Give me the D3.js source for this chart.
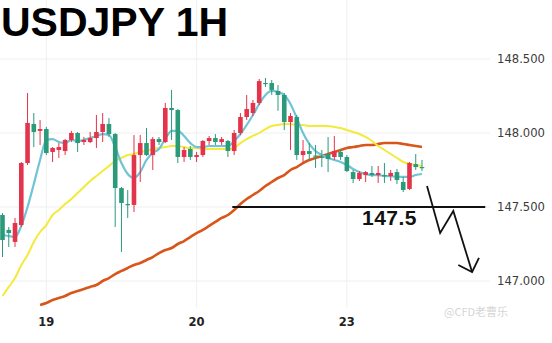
<!DOCTYPE html>
<html><head><meta charset="utf-8">
<script src="https://cdn.jsdelivr.net/npm/d3@7"></script>
<style>body{margin:0;background:#fff}svg{display:block}</style></head>
<body>
<script>
const title = "USDJPY 1H";
const open  = [147.446,147.345,147.264,147.378,147.797,148.061,148.014,148.027,147.872,147.885,147.878,147.953,148.000,147.939,147.939,147.966,148.007,148.061,147.993,147.628,147.520,147.514,147.851,147.932,147.851,147.959,147.939,148.169,148.155,147.838,147.892,147.838,147.851,147.946,147.966,147.939,147.946,147.878,148.000,148.108,148.135,148.203,148.338,148.338,148.284,148.257,148.074,148.108,147.851,147.878,147.848,147.840,147.858,147.838,147.872,147.838,147.736,147.689,147.716,147.730,147.716,147.716,147.709,147.736,147.669,147.622,147.790,147.770];
const high  = [147.459,147.365,147.426,147.804,148.270,148.135,148.088,148.041,147.905,147.932,147.959,148.014,148.007,147.973,148.007,148.122,148.135,148.101,148.000,147.635,147.615,147.986,147.986,148.034,147.973,147.973,148.203,148.291,148.162,147.905,147.912,147.872,147.953,147.980,147.993,147.973,147.953,148.020,148.135,148.257,148.223,148.365,148.372,148.358,148.324,148.270,148.135,148.122,147.953,147.932,147.919,147.885,147.973,147.980,147.892,147.851,147.750,147.743,147.743,147.777,147.777,147.797,147.750,147.757,147.703,147.804,147.858,147.818];
const low   = [147.162,147.230,147.230,147.365,147.784,147.905,147.919,147.851,147.804,147.831,147.851,147.939,147.872,147.919,147.932,147.899,147.939,147.973,147.365,147.196,147.426,147.466,147.669,147.845,147.750,147.919,147.932,147.953,147.797,147.804,147.818,147.804,147.838,147.919,147.919,147.919,147.838,147.851,147.986,148.088,148.115,148.189,148.311,148.257,148.150,148.020,147.885,147.818,147.797,147.818,147.764,147.770,147.736,147.818,147.818,147.736,147.662,147.676,147.669,147.703,147.662,147.662,147.676,147.655,147.601,147.615,147.750,147.743];
const close = [147.277,147.324,147.392,147.797,148.068,148.007,148.027,147.865,147.899,147.905,147.953,148.000,147.932,147.953,147.966,148.007,148.061,147.993,147.628,147.527,147.514,147.851,147.932,147.851,147.959,147.939,148.169,148.155,147.838,147.885,147.838,147.851,147.946,147.966,147.939,147.959,147.878,148.000,148.108,148.162,148.203,148.351,148.331,148.291,148.257,148.074,148.115,147.851,147.878,147.858,147.843,147.836,147.824,147.878,147.838,147.743,147.689,147.730,147.736,147.716,147.730,147.709,147.730,147.682,147.615,147.797,147.770,147.764];
const maFast = [147.311,147.304,147.297,147.372,147.500,147.655,147.818,147.953,147.959,147.939,147.932,147.953,147.946,147.953,147.966,147.980,147.993,147.986,147.905,147.797,147.723,147.696,147.736,147.818,147.865,147.892,147.959,148.014,148.014,147.980,147.932,147.905,147.905,147.912,147.912,147.912,147.912,147.946,147.993,148.054,148.122,148.196,148.257,148.284,148.277,148.257,148.196,148.101,148.000,147.926,147.878,147.851,147.831,147.818,147.804,147.784,147.757,147.736,147.723,147.716,147.716,147.709,147.709,147.703,147.703,147.703,147.716,147.723];
const maMid = [146.899,146.960,147.020,147.108,147.176,147.264,147.331,147.378,147.446,147.480,147.520,147.554,147.595,147.635,147.676,147.709,147.743,147.777,147.811,147.831,147.851,147.858,147.872,147.878,147.892,147.899,147.905,147.912,147.912,147.905,147.899,147.899,147.892,147.892,147.892,147.892,147.892,147.899,147.932,147.959,147.980,148.000,148.027,148.047,148.054,148.061,148.061,148.054,148.054,148.047,148.047,148.047,148.047,148.041,148.034,148.020,148.007,147.993,147.973,147.946,147.912,147.885,147.858,147.831,147.804,147.791,147.784,147.777];
const maSlow = [null,null,null,null,null,null,146.838,146.851,146.872,146.885,146.899,146.919,146.932,146.946,146.960,146.973,147.000,147.020,147.047,147.068,147.088,147.108,147.122,147.142,147.162,147.189,147.209,147.223,147.250,147.270,147.297,147.324,147.345,147.372,147.399,147.426,147.446,147.480,147.520,147.554,147.581,147.608,147.642,147.669,147.696,147.716,147.750,147.770,147.797,147.818,147.831,147.845,147.858,147.872,147.885,147.899,147.905,147.912,147.919,147.919,147.926,147.932,147.932,147.932,147.926,147.919,147.912,147.905];
const yTicks = [147.0, 147.5, 148.0, 148.5];
const dayLabels = ["19", "20", "23"];
const dayIndex = [7, 31, 55];
const level = 147.5;
const levelText = "147.5";
const levelSpan = [36.7, 77.1];
const arrowIdx = [67.8, 69.9, 72.0, 75.0];
const arrowPx = [147.642, 147.325, 147.473, 147.061];
const headIdx = [72.8, 75.0, 76.1];
const headPx = [147.108, 147.061, 147.156];
const watermark = "@CFD老曹乐";

const W = 552, H = 343;
const svg = d3.select("body").append("svg").attr("width", W).attr("height", H);
const x = d3.scaleLinear().domain([0, 67]).range([2.5, 422]);
const y = d3.scaleLinear().domain([147, 148.5]).range([281, 59]);
const RED = "#e4344b", GREEN = "#2b9a7b";

// grid
svg.append("g").selectAll("line").data(yTicks).join("line")
  .attr("x1", 0).attr("x2", 490).attr("y1", d => y(d)).attr("y2", d => y(d))
  .attr("stroke", "#efefef").attr("stroke-width", 1);
svg.append("g").selectAll("line").data(dayIndex).join("line")
  .attr("x1", d => x(d)).attr("x2", d => x(d)).attr("y1", 0).attr("y2", 308)
  .attr("stroke", "#f0f0f0").attr("stroke-width", 1);

// y labels
svg.append("g").selectAll("text").data(yTicks).join("text")
  .attr("x", 497).attr("y", d => y(d)).attr("dy", "0.36em")
  .attr("font-family", "DejaVu Sans, sans-serif").attr("font-size", 11.6)
  .attr("fill", "#3a3a3a").text(d => d3.format(".3f")(d));
// x labels
svg.append("g").selectAll("text").data(dayLabels).join("text")
  .attr("x", (d, i) => x(dayIndex[i])).attr("y", 326).attr("text-anchor", "middle")
  .attr("font-family", "DejaVu Sans, sans-serif").attr("font-weight", "bold").attr("font-size", 11.5)
  .attr("fill", "#222").text(d => d);

const clip = svg.append("clipPath").attr("id", "c").append("rect")
  .attr("x", 0).attr("y", 0).attr("width", 490).attr("height", 309);
const plot = svg.append("g").attr("clip-path", "url(#c)");

const line = d3.line().defined(d => d[1] != null).x(d => x(d[0])).y(d => y(d[1])).curve(d3.curveMonotoneX);
const mk = arr => arr.map((v, i) => [i, v]);
plot.append("path").attr("d", line(mk(maSlow))).attr("fill", "none").attr("stroke", "#d9561b").attr("stroke-width", 2.6);
plot.append("path").attr("d", line(mk(maMid))).attr("fill", "none").attr("stroke", "#f3ea3a").attr("stroke-width", 2);
plot.append("path").attr("d", line(mk(maFast))).attr("fill", "none").attr("stroke", "#6fc4d6").attr("stroke-width", 2.2);

const idx = d3.range(open.length);
const cg = plot.append("g");
cg.selectAll("line").data(idx).join("line")
  .attr("x1", i => x(i)).attr("x2", i => x(i))
  .attr("y1", i => y(high[i])).attr("y2", i => y(low[i]))
  .attr("stroke", i => close[i] >= open[i] ? RED : GREEN).attr("stroke-width", 1);
cg.selectAll("rect").data(idx).join("rect")
  .attr("x", i => x(i) - 2.3).attr("width", 4.6)
  .attr("y", i => y(Math.max(open[i], close[i])))
  .attr("height", i => Math.max(1.2, Math.abs(y(open[i]) - y(close[i]))))
  .attr("fill", i => close[i] >= open[i] ? RED : GREEN);

// level line + label
svg.append("line").attr("x1", x(levelSpan[0])).attr("x2", x(levelSpan[1]))
  .attr("y1", y(level)).attr("y2", y(level)).attr("stroke", "#111").attr("stroke-width", 2);
svg.append("text").attr("x", 362).attr("y", y(level) + 18)
  .attr("font-family", "Liberation Sans, Arial, sans-serif").attr("font-weight", "bold")
  .attr("font-size", 21).attr("letter-spacing", 0.5).attr("fill", "#111").text(levelText);

// arrow
const pl = d3.line().x(d => x(d[0])).y(d => y(d[1]));
svg.append("path").attr("d", pl(arrowIdx.map((v, i) => [v, arrowPx[i]])))
  .attr("fill", "none").attr("stroke", "#111").attr("stroke-width", 1.8).attr("stroke-linejoin", "miter");
svg.append("path").attr("d", pl(headIdx.map((v, i) => [v, headPx[i]])))
  .attr("fill", "none").attr("stroke", "#111").attr("stroke-width", 1.8);

// title
svg.append("text").attr("x", 1).attr("y", 36)
  .attr("font-family", "Liberation Sans, Arial, sans-serif").attr("font-weight", "bold")
  .attr("font-size", 41).attr("fill", "#000").text(title);

// watermark
svg.append("text").attr("x", 444).attr("y", 316)
  .attr("font-family", "Noto Sans CJK SC, sans-serif").attr("font-size", 11)
  .attr("fill", "#d6d6d6").text(watermark);
</script>
</body></html>
